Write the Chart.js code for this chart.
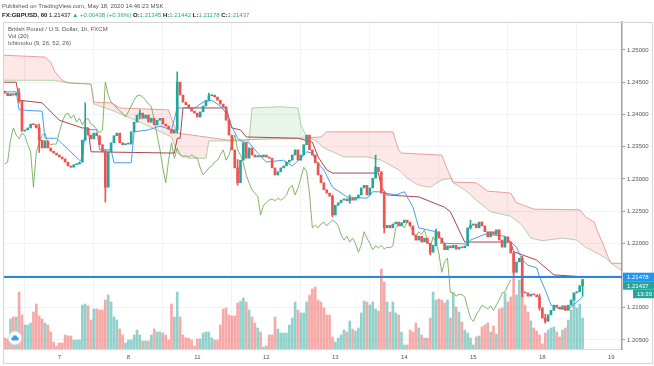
<!DOCTYPE html>
<html>
<head>
<meta charset="utf-8">
<script src="https://cdn.jsdelivr.net/npm/chart.js@4.4.1/dist/chart.umd.min.js"></script>
<style>
  html, body { margin: 0; padding: 0; background: #fff; }
  #wrap { position: relative; width: 654px; height: 366px; }
</style>
</head>
<body>
<div id="wrap"><canvas id="chart" width="654" height="366"></canvas></div>
<script>
// time axis: bar index of each day start, and its label
const dayBars = [19, 43, 67, 91, 115, 139, 163, 187, 211];
const dayLabels = ['7', '8', '11', '12', '13', '14', '15', '18', '19'];
const priceTicks = [1.205, 1.21, 1.215, 1.22, 1.225, 1.23, 1.235, 1.24, 1.245, 1.25];

// GBPUSD 1h closes, bar 0 = May 6 05:00
const firstOpen = 1.2436;
const closes = [
  1.2433, 1.2429, 1.2432, 1.2430, 1.2433, 1.2421, 1.2374, 1.2376, 1.2379, 1.2385,
  1.2384, 1.2379, 1.2360, 1.2348, 1.2359, 1.2348, 1.2343, 1.2340, 1.2337, 1.2334,
  1.2331, 1.2326, 1.2320, 1.2318, 1.2322, 1.2323, 1.2326, 1.2360, 1.2379, 1.2368,
  1.2362, 1.2371, 1.2367, 1.2353, 1.2342, 1.2287, 1.2342, 1.2356, 1.2367, 1.2371,
  1.2356, 1.2353, 1.2354, 1.2354, 1.2373, 1.2388, 1.2399, 1.2402, 1.2394, 1.2399,
  1.2388, 1.2394, 1.2384, 1.2391, 1.2394, 1.2385, 1.2382, 1.2377, 1.2371, 1.2376,
  1.2450, 1.2430, 1.2419, 1.2415, 1.2410, 1.2405, 1.2402, 1.2396, 1.2404, 1.2413,
  1.2422, 1.2429, 1.2430, 1.2427, 1.2422, 1.2416, 1.2412, 1.2391, 1.2368, 1.2345,
  1.2317, 1.2294, 1.2329, 1.2356, 1.2332, 1.2348, 1.2337, 1.2334, 1.2336, 1.2334,
  1.2337, 1.2334, 1.2332, 1.2317, 1.2306, 1.2311, 1.2317, 1.2320, 1.2326, 1.2329,
  1.2337, 1.2345, 1.2329, 1.2337, 1.2353, 1.2368, 1.2345, 1.2337, 1.2325, 1.2306,
  1.2294, 1.2283, 1.2278, 1.2273, 1.2244, 1.2259, 1.2263, 1.2267, 1.2269, 1.2266,
  1.2270, 1.2267, 1.2270, 1.2275, 1.2286, 1.2290, 1.2275, 1.2286, 1.2301, 1.2318,
  1.2311, 1.2278, 1.2224, 1.2228, 1.2224, 1.2230, 1.2233, 1.2227, 1.2232, 1.2236,
  1.2233, 1.2227, 1.2213, 1.2205, 1.2211, 1.2202, 1.2208, 1.2200, 1.2186, 1.2197,
  1.2218, 1.2208, 1.2200, 1.2190, 1.2196, 1.2193, 1.2197, 1.2191, 1.2194, 1.2193,
  1.2196, 1.2224, 1.2228, 1.2230, 1.2224, 1.2233, 1.2227, 1.2218, 1.2210, 1.2218,
  1.2214, 1.2221, 1.2205, 1.2194, 1.2210, 1.2202, 1.2185, 1.2155, 1.2171, 1.2177,
  1.2124, 1.2123, 1.2118, 1.2121, 1.2120, 1.2117, 1.2100, 1.2084, 1.2079, 1.2089,
  1.2096, 1.2104, 1.2101, 1.2098, 1.2103, 1.2096, 1.2104, 1.2112, 1.2123, 1.2125,
  1.21345, 1.21437
];

// volume per bar (arbitrary units)
const volumes = [
  11, 10, 30, 32, 32, 57, 34, 24, 24, 26,
  37, 45, 33, 30, 26, 24, 17, 7, 3, 6,
  6, 14, 13, 13, 9, 9, 9, 44, 45, 43,
  29, 40, 40, 39, 39, 49, 54, 47, 32, 29,
  20, 14, 6, 9, 9, 14, 19, 14, 8, 8,
  8, 14, 20, 17, 17, 16, 14, 9, 45, 32,
  57, 32, 14, 11, 11, 9, 3, 10, 10, 16,
  17, 17, 11, 9, 9, 24, 40, 41, 34, 33,
  33, 46, 48, 51, 47, 39, 32, 26, 21, 17,
  2, 3, 14, 14, 32, 20, 16, 16, 16, 24,
  31, 47, 39, 36, 36, 47, 54, 60, 62, 49,
  47, 41, 34, 34, 12, 7, 11, 14, 19, 17,
  28, 20, 18, 21, 36, 48, 47, 44, 47, 40,
  38, 80, 67, 47, 37, 47, 36, 34, 17, 4,
  4, 19, 17, 26, 21, 14, 11, 11, 31, 57,
  49, 50, 49, 46, 49, 31, 56, 42, 37, 27,
  19, 16, 11, 4, 12, 13, 22, 24, 26, 17,
  23, 15, 40, 41, 56, 47, 52, 71, 54, 69,
  57, 44, 37, 28, 21, 18, 14, 5, 16, 19,
  21, 22, 17, 12, 19, 21, 29, 39, 56, 41,
  45, 31
];

// visible wicks
const wickBars  = [5, 12, 28, 35, 47, 60, 71, 81, 114, 120, 129, 132, 148, 150, 162, 177, 180, 186, 188, 201];
const wickHighs = [1.2440, 1.2385, 1.2418, 1.2345, 1.2407, 1.2466, 1.2433, 1.2330, 1.2275, 1.2275, 1.2337, 1.2280, 1.2200, 1.2222, 1.2236, 1.2186, 1.2180, 1.2121, 1.2090, 1.21442];
const wickLows  = [1.2418, 1.2341, 1.2360, 1.2264, 1.2393, 1.2371, 1.2422, 1.2290, 1.2241, 1.2262, 1.2306, 1.2216, 1.2182, 1.2196, 1.2222, 1.2150, 1.2117, 1.2096, 1.2076, 1.21178];

// Ichimoku (9, 26, 52, 26)
const tenkanBars = [-1, 4, 5, 13, 14, 18, 26, 27, 28, 32, 33, 37, 38, 44, 45, 50, 54, 58, 60, 66, 69, 72, 75, 77, 79, 81, 83, 85, 88, 91, 97, 100, 103, 105, 107, 108, 111, 114, 117, 119, 126, 128, 130, 136, 139, 142, 144, 150, 153, 161, 162, 167, 174, 176, 178, 180, 182, 185, 186, 188, 190, 192, 195, 197, 199, 201];
const tenkanVals = [1.2435, 1.2435, 1.2407, 1.2405, 1.2363, 1.2363, 1.2329, 1.2329, 1.2377, 1.2376, 1.2345, 1.2345, 1.2325, 1.2325, 1.2373, 1.2376, 1.2382, 1.2376, 1.2410, 1.2410, 1.2419, 1.2422, 1.2413, 1.2402, 1.2381, 1.2363, 1.2357, 1.2356, 1.2340, 1.2326, 1.2329, 1.2320, 1.2332, 1.2342, 1.2340, 1.2329, 1.2314, 1.2287, 1.2278, 1.2272, 1.2270, 1.2280, 1.2280, 1.2275, 1.2280, 1.2256, 1.2224, 1.2218, 1.2200, 1.2199, 1.2205, 1.2214, 1.2211, 1.2202, 1.2194, 1.2174, 1.2166, 1.2162, 1.2148, 1.2128, 1.2104, 1.2100, 1.2097, 1.2101, 1.2109, 1.2117];

const kijunBars = [-1, 4, 5, 13, 19, 27, 29, 30, 59, 60, 61, 62, 77, 79, 82, 84, 102, 107, 109, 112, 114, 130, 131, 133, 144, 153, 155, 160, 176, 177, 185, 191, 201];
const kijunVals = [1.2450, 1.2450, 1.2422, 1.2418, 1.2391, 1.2379, 1.2379, 1.2342, 1.2340, 1.2363, 1.2363, 1.2410, 1.2410, 1.2379, 1.2376, 1.2365, 1.2363, 1.2357, 1.2334, 1.2314, 1.2309, 1.2309, 1.2287, 1.2275, 1.2272, 1.2256, 1.2249, 1.2202, 1.2202, 1.2187, 1.2174, 1.2151, 1.2148];

const spanABars = [-1, 17, 22, 30, 31, 37, 47, 58, 60, 64, 70, 71, 85, 86, 96, 102, 103, 105, 108, 111, 118, 126, 131, 137, 140, 144, 148, 152, 155, 156, 160, 164, 169, 176, 180, 183, 187, 194, 199, 202, 205, 209, 211, 214, 221];
const spanAVals = [1.2453, 1.2453, 1.2449, 1.2447, 1.2416, 1.2407, 1.2388, 1.2365, 1.2340, 1.2332, 1.2332, 1.2359, 1.2359, 1.2410, 1.2412, 1.2410, 1.2384, 1.2365, 1.2360, 1.2348, 1.2334, 1.2334, 1.2329, 1.2314, 1.2301, 1.2290, 1.2287, 1.2298, 1.2301, 1.2294, 1.2283, 1.2267, 1.2249, 1.2242, 1.2228, 1.2208, 1.2204, 1.2208, 1.2205, 1.2194, 1.2187, 1.2177, 1.2169, 1.2159, 1.2151];

const spanBBars = [-1, 14, 16, 17.5, 20, 22, 30, 31, 37, 40, 57, 58, 60, 70, 78, 102, 110, 112, 135, 137, 138, 152, 154, 156, 164, 168, 176, 178, 184, 200, 202, 205, 206, 208, 210, 211, 214, 221];
const spanBVals = [1.2492, 1.2489, 1.2481, 1.2466, 1.2453, 1.2449, 1.2447, 1.2419, 1.2418, 1.2410, 1.2407, 1.2394, 1.2371, 1.2365, 1.2360, 1.2363, 1.2365, 1.2373, 1.2373, 1.2345, 1.2340, 1.2337, 1.2314, 1.2295, 1.2294, 1.2281, 1.2278, 1.2263, 1.2253, 1.2252, 1.2241, 1.2233, 1.2221, 1.2200, 1.2177, 1.2169, 1.2169, 1.2169];

const laggingShift = 25;
const levelPrice = 1.21478;
const lastPrice = 1.21437;
const countdown = '13:39';

const UP = '#26a69a';
const DOWN = '#ef5350';
const FONT = '"Liberation Sans", "DejaVu Sans", sans-serif';

const opens = closes.map((c, i) => (i === 0 ? firstOpen : closes[i - 1]));
const isUp = closes.map((c, i) => c >= opens[i]);
const pts = (xs, ys) => xs.map((x, i) => ({ x: x, y: ys[i] }));

const decor = {
  id: 'decor',
  beforeDraw(chart) {
    const ctx = chart.ctx;
    ctx.save();
    ctx.fillStyle = '#ffffff';
    ctx.fillRect(0, 0, chart.width, chart.height);
    ctx.restore();
  },
  afterDraw(chart) {
    const ctx = chart.ctx;
    const a = chart.chartArea;
    const ys = chart.scales.y;
    ctx.save();

    // frame
    ctx.strokeStyle = '#d4d4d4';
    ctx.lineWidth = 1;
    ctx.strokeRect(3.5, 22.5, 649, 341);

    // header lines
    ctx.textBaseline = 'alphabetic';
    ctx.textAlign = 'left';
    ctx.font = '6px ' + FONT;
    ctx.fillStyle = '#555';
    ctx.fillText('Published on TradingView.com, May 18, 2020 14:46:23 MSK', 2, 8);

    let x = 2;
    const seg = (t, c, bold) => {
      ctx.font = (bold ? 'bold ' : '') + '6px ' + FONT;
      ctx.fillStyle = c;
      ctx.fillText(t, x, 16.5);
      x += ctx.measureText(t).width;
    };
    seg('FX:GBPUSD, 60', '#131722', true);
    seg(' 1.21437 ', '#131722', false);
    seg('\u25B2', UP, false);
    seg(' +0.00438 (+0.36%) ', UP, false);
    seg('O:', '#131722', true);
    seg('1.21345 ', UP, false);
    seg('H:', '#131722', true);
    seg('1.21442 ', UP, false);
    seg('L:', '#131722', true);
    seg('1.21178 ', UP, false);
    seg('C:', '#131722', true);
    seg('1.21437', UP, false);

    // legend inside pane
    ctx.font = '6px ' + FONT;
    ctx.fillStyle = '#555';
    ctx.fillText('British Pound / U.S. Dollar, 1h, FXCM', 8, 31);
    ctx.fillText('Vol (20)', 8, 38);
    ctx.fillText('Ichimoku (9, 26, 52, 26)', 8, 45);

    // price scale badges
    const boxH = 8.5;
    const badge = (bx, by, bw, color, text) => {
      ctx.fillStyle = color;
      ctx.fillRect(bx, by, bw, boxH);
      ctx.fillStyle = '#fff';
      ctx.font = '6px ' + FONT;
      ctx.textBaseline = 'middle';
      ctx.fillText(text, bx + 4, by + boxH / 2 + 0.5);
    };
    const lvlY = ys.getPixelForValue(levelPrice);
    const w = chart.width - a.right;
    badge(a.right + 1, lvlY - boxH / 2, w - 1, '#2196f3', levelPrice.toFixed(5));
    badge(a.right + 1, lvlY + boxH / 2, w - 1, UP, lastPrice.toFixed(5));
    badge(a.right + 11, lvlY + boxH * 1.5, w - 11, UP, countdown);

    // TradingView logo
    const lx = 15, ly = 338;
    ctx.beginPath();
    ctx.arc(lx, ly, 6.5, 0, Math.PI * 2);
    ctx.fillStyle = '#fff';
    ctx.fill();
    ctx.strokeStyle = '#dfe6ef';
    ctx.stroke();
    ctx.fillStyle = '#3d9be9';
    ctx.beginPath();
    ctx.arc(lx - 2.2, ly + 0.8, 1.6, 0, Math.PI * 2);
    ctx.arc(lx, ly - 0.6, 2.2, 0, Math.PI * 2);
    ctx.arc(lx + 2.3, ly + 0.8, 1.6, 0, Math.PI * 2);
    ctx.fill();
    ctx.fillRect(lx - 2.2, ly + 0.6, 4.5, 1.8);

    ctx.restore();
  }
};

const lineDs = (label, data, color, order, extra) => Object.assign({
  type: 'line', label: label, data: data, borderColor: color, borderWidth: 1,
  pointRadius: 0, tension: 0, fill: false, order: order
}, extra || {});

new Chart(document.getElementById('chart'), {
  type: 'line',
  data: {
    datasets: [
      lineDs('Lead 1', pts(spanABars, spanAVals), 'rgba(110, 170, 100, 0.5)', 10, {
        fill: { target: '+1', above: 'rgba(76, 175, 80, 0.13)', below: 'rgba(244, 67, 54, 0.12)' }
      }),
      lineDs('Lead 2', pts(spanBBars, spanBVals), 'rgba(229, 115, 115, 0.65)', 10),
      {
        type: 'bar', label: 'Volume', yAxisID: 'yv', order: 11, grouped: false,
        data: volumes.map((v, i) => ({ x: i, y: v })),
        backgroundColor: isUp.map(u => (u ? 'rgba(38, 166, 154, 0.5)' : 'rgba(239, 83, 80, 0.5)')),
        barThickness: 2, borderWidth: 0
      },
      lineDs('Lagging Span', closes.slice(laggingShift).map((c, i) => ({ x: i, y: c })), 'rgba(112, 168, 80, 0.85)', 5),
      lineDs('Base Line', pts(kijunBars, kijunVals), '#a8464d', 4),
      lineDs('Conversion Line', pts(tenkanBars, tenkanVals), '#45a0f0', 3),
      lineDs('Level', [{ x: -1, y: levelPrice }, { x: 216, y: levelPrice }], '#2a86db', 0, { borderWidth: 2 }),
      {
        type: 'bar', label: 'Wicks', order: 2, grouped: false,
        data: wickBars.map((b, i) => ({ x: b, y: [wickLows[i], wickHighs[i]] })),
        backgroundColor: wickBars.map(b => (isUp[b] ? UP : DOWN)),
        barThickness: 1, borderWidth: 0
      },
      {
        type: 'bar', label: 'Candles', order: 1, grouped: false,
        data: closes.map((c, i) => ({ x: i, y: [opens[i], c] })),
        backgroundColor: isUp.map(u => (u ? UP : DOWN)),
        barThickness: 2, borderWidth: 0, minBarLength: 1
      }
    ]
  },
  options: {
    responsive: false,
    animation: false,
    events: [],
    layout: { padding: { left: 3, top: 22, right: 0, bottom: 3 } },
    plugins: { legend: { display: false }, tooltip: { enabled: false } },
    scales: {
      x: {
        type: 'linear', min: -0.6, max: 214.7, offset: false,
        afterBuildTicks: s => { s.ticks = dayBars.map(v => ({ value: v })); },
        afterFit: s => { s.height = 14; },
        grid: { color: '#f1f3f6', drawTicks: false },
        border: { display: true, color: '#dcdcdc' },
        ticks: {
          autoSkip: false, maxRotation: 0, padding: 5, color: '#555',
          font: { family: FONT, size: 6 },
          callback: (v, i) => dayLabels[i]
        }
      },
      y: {
        position: 'right', min: 1.20360, max: 1.25434,
        afterBuildTicks: s => { s.ticks = priceTicks.map(v => ({ value: v })); },
        afterFit: s => { s.width = 32; },
        grid: { color: '#f1f3f6', tickColor: '#999', tickLength: 3 },
        border: { color: '#a0a0a0', width: 1.5 },
        ticks: {
          padding: 2, color: '#555',
          font: { family: FONT, size: 6 },
          callback: v => v.toFixed(5)
        }
      },
      yv: { display: false, min: 0, max: 327 }
    }
  },
  plugins: [decor]
});
</script>
</body>
</html>
